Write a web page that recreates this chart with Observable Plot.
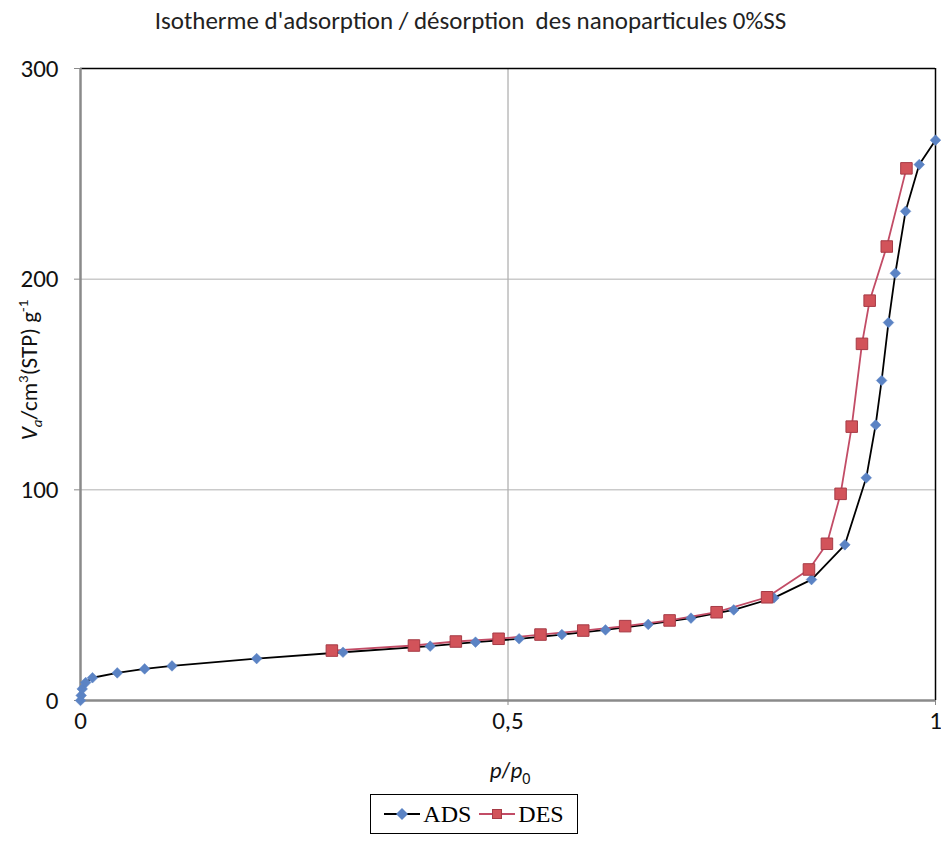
<!DOCTYPE html>
<html>
<head>
<meta charset="utf-8">
<script src="https://cdn.jsdelivr.net/npm/d3@7"></script>
<script src="https://cdn.jsdelivr.net/npm/@observablehq/plot@0.6"></script>
<style>
  body { margin: 0; background: #fff; }
  #wrap { position: relative; width: 941px; height: 845px; font-family: Carlito, "Liberation Sans Narrow", "Open Sans", sans-serif; }
  #title { position: absolute; top: 6px; left: 0; width: 941px; text-align: center; font-size: 24px; color: #222; transform: scaleX(1.04); }
  #ylab { position: absolute; left: 30px; top: 370px; transform: translate(-50%, -50%) rotate(-90deg); white-space: nowrap; font-size: 23px; color: #111; }
  #xlab { position: absolute; left: 510px; top: 772px; transform: translate(-50%, -50%); font-size: 23px; color: #111; }
  #legend { position: absolute; left: 370px; top: 794px; width: 206px; height: 38px; border: 1.5px solid #000; display: flex; align-items: center; justify-content: center; gap: 8px; font-family: "Liberation Serif", "DejaVu Serif", serif; font-size: 24px; }
  .sw { position: relative; display: inline-block; width: 36px; height: 14px; vertical-align: middle; }
  .sw .ln { position: absolute; left: 0; right: 0; top: 6px; height: 2px; }
  .sw .mk { position: absolute; left: 13px; top: 2px; width: 10px; height: 10px; }
  .item { display: flex; align-items: center; gap: 3px; }
</style>
</head>
<body>
<div id="wrap">
  <div id="title">Isotherme d'adsorption / désorption&nbsp; des nanoparticules 0%SS</div>
  <div id="chart"></div>
  <div id="ylab"><i>V<sub style="font-size:15px">a</sub></i>/cm<sup style="font-size:15px">3</sup>(STP) g<sup style="font-size:15px">-1</sup></div>
  <div id="xlab"><i>p</i>/<i>p</i><sub style="font-size:16px">0</sub></div>
  <div id="legend">
    <span class="item"><span class="sw"><span class="ln" style="background:#000"></span><span class="mk" style="background:#5B83C4;transform:rotate(45deg) scale(0.85)"></span></span>ADS</span>
    <span class="item"><span class="sw"><span class="ln" style="background:#C24C66"></span><span class="mk" style="background:#D2535A;border:1px solid #A63B46;box-sizing:border-box"></span></span>DES</span>
  </div>
</div>
<script>
// Adsorption branch (ADS)
const adsP = [0, 0.0008, 0.002, 0.006, 0.014, 0.043, 0.075, 0.107, 0.206, 0.307, 0.409, 0.462, 0.513, 0.563, 0.614, 0.664, 0.714, 0.764, 0.811, 0.855, 0.894, 0.919, 0.930, 0.937, 0.945, 0.953, 0.965, 0.981, 1.0];
const adsV = [0, 2.4, 5.5, 8.5, 10.8, 13.1, 15.0, 16.4, 19.9, 22.9, 25.8, 27.7, 29.3, 31.3, 33.5, 36.1, 39.1, 43.0, 48.7, 57.4, 73.9, 105.7, 130.8, 151.9, 179.4, 202.8, 232.2, 254.4, 266.0];
// Desorption branch (DES)
const desP = [0.294, 0.390, 0.439, 0.489, 0.538, 0.588, 0.637, 0.689, 0.744, 0.803, 0.852, 0.873, 0.889, 0.902, 0.914, 0.923, 0.943, 0.966];
const desV = [23.7, 26.1, 28.0, 29.3, 31.3, 33.2, 35.3, 38.0, 41.9, 49.0, 62.2, 74.4, 98.1, 130.0, 169.3, 189.8, 215.5, 252.6];
const xTicks = [0, 0.5, 1];
const xTickLabels = ["0", "0,5", "1"];
const yTicks = [0, 100, 200, 300];

const ads = adsP.map((p, i) => ({p, v: adsV[i]}));
const des = desP.map((p, i) => ({p, v: desV[i]}));

const chart = Plot.plot({
  width: 941,
  height: 780,
  marginLeft: 80,
  marginRight: 6,
  marginTop: 68,
  marginBottom: 80,
  style: {fontFamily: 'Carlito, "Liberation Sans Narrow", "Open Sans", sans-serif', color: "#111"},
  x: {domain: [0, 1]},
  y: {domain: [0, 300]},
  marks: [
    Plot.ruleX([0.5], {stroke: "#9a9a9a", strokeWidth: 1}),
    Plot.ruleY([100, 200], {stroke: "#b0b0b0", strokeWidth: 1}),
    Plot.ruleY([300], {stroke: "#000", strokeWidth: 1.5}),
    Plot.ruleX([1], {stroke: "#000", strokeWidth: 1.5}),
    Plot.ruleY([0], {stroke: "#8a8a8a", strokeWidth: 2.5}),
    Plot.ruleX([0], {stroke: "#8a8a8a", strokeWidth: 2.5}),
    Plot.axisX({ticks: xTicks, tickFormat: (d) => xTickLabels[xTicks.indexOf(d)], tickSize: 5, stroke: "#8a8a8a", tickPadding: 6, fontSize: 25, label: null}),
    Plot.axisY({ticks: yTicks, tickSize: 6, stroke: "#8a8a8a", tickPadding: 16, fontSize: 25, label: null}),
    Plot.line(ads, {x: "p", y: "v", stroke: "#000", strokeWidth: 1.8}),
    Plot.line(des, {x: "p", y: "v", stroke: "#C24C66", strokeWidth: 1.8}),
    Plot.dot(ads, {x: "p", y: "v", symbol: "diamond2", r: 4.8, fill: "#5B83C4", stroke: "#5B83C4", strokeWidth: 0.5}),
    Plot.dot(des, {x: "p", y: "v", symbol: "square", r: 6.5, fill: "#D2535A", stroke: "#A63B46", strokeWidth: 1})
  ]
});
document.getElementById("chart").appendChild(chart);
</script>
</body>
</html>
